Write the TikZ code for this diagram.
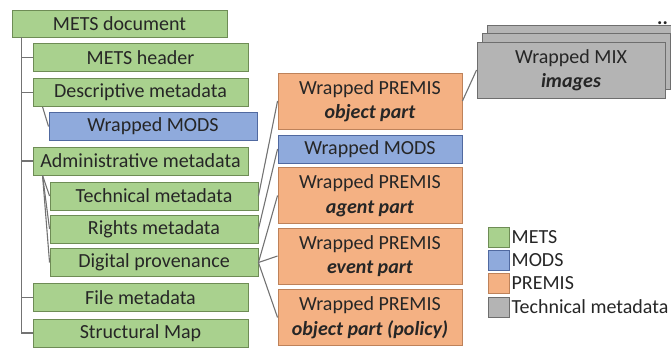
\documentclass[tikz,border=0pt]{standalone}
\usepackage{fontspec}
\setmainfont{Carlito}
\definecolor{metsfill}{RGB}{169,209,142}
\definecolor{metsline}{RGB}{110,140,85}
\definecolor{modsfill}{RGB}{143,170,220}
\definecolor{modsline}{RGB}{80,105,160}
\definecolor{premisfill}{RGB}{244,177,131}
\definecolor{premisline}{RGB}{190,130,90}
\definecolor{techfill}{RGB}{180,180,180}
\definecolor{techline}{RGB}{110,110,110}
\definecolor{wire}{RGB}{115,115,115}
\definecolor{ink}{RGB}{38,38,38}

\begin{document}
\begin{tikzpicture}[x=1pt,y=-1pt,
  box/.style={draw, line width=0.9pt, inner sep=0pt, text=ink, align=center,
    font=\fontsize{20}{24.5}\selectfont, minimum height=28pt},
  mets/.style={box, fill=metsfill, draw=metsline},
  mods/.style={box, fill=modsfill, draw=modsline},
  premis/.style={box, fill=premisfill, draw=premisline, minimum width=184pt, minimum height=56pt},
  tech/.style={box, fill=techfill, draw=techline, minimum width=188pt, minimum height=56pt},
  key/.style={draw, line width=0.9pt, minimum width=21pt, minimum height=20pt, inner sep=0pt},
  keytext/.style={anchor=west, text=ink, inner sep=0pt, font=\fontsize{20}{22}\selectfont},
  link/.style={draw=wire, line width=1.1pt}]
\useasboundingbox (0,0) rectangle (671,349);

% METS tree
\node[mets, minimum width=215pt, minimum height=27pt] (doc) at (119.5,23.5) {METS document};
\node[mets, minimum width=215pt] (hdr) at (140.5,57.5) {METS header};
\node[mets, minimum width=215pt] (dmd) at (140.5,92.5) {Descriptive metadata};
\node[mods, minimum width=208pt] (dmods) at (153,126.5) {Wrapped MODS};
\node[mets, minimum width=215pt] (amd) at (140.5,161) {Administrative metadata};
\node[mets, minimum width=208pt] (techmd) at (154,196) {Technical metadata};
\node[mets, minimum width=208pt] (rightsmd) at (154,229) {Rights metadata};
\node[mets, minimum width=208pt] (digiprov) at (154,262.5) {Digital provenance};
\node[mets, minimum width=215pt] (filemd) at (140.5,297.5) {File metadata};
\node[mets, minimum width=215pt] (structmap) at (140.5,333) {Structural Map};

% wrapped sections
\node[premis] (premobj) at (370,101) {Wrapped PREMIS\\\textbf{\textit{object part}}};
\node[mods, minimum width=184pt] (pmods) at (370,149) {Wrapped MODS};
\node[premis] (premagent) at (370,195.5) {Wrapped PREMIS\\\textbf{\textit{agent part}}};
\node[premis] (premevent) at (370,256) {Wrapped PREMIS\\\textbf{\textit{event part}}};
\node[premis] (prempolicy) at (370,317.5) {Wrapped PREMIS\\\textbf{\textit{object part (policy)}}};

% stack of MIX images
\node[tech] (mix3) at (581,53) {};
\node[tech] (mix2) at (576,61.5) {};
\node[tech] (mix) at (571,70) {Wrapped MIX\\\textbf{\textit{images}}};
\node[anchor=west, inner sep=0pt, text=ink, font=\fontsize{20}{24}\selectfont\bfseries] (more) at (657,23) {..};

% legend
\node[key, fill=metsfill, draw=metsline] (kmets) at (498.5,237) {};
\node[key, fill=modsfill, draw=modsline] (kmods) at (498.5,260.5) {};
\node[key, fill=premisfill, draw=premisline] (kpremis) at (498.5,283) {};
\node[key, fill=techfill, draw=techline] (ktech) at (498.5,307) {};
\node[keytext] (lmets) at ([xshift=2pt]kmets.east) {METS};
\node[keytext] (lmods) at ([xshift=2pt]kmods.east) {MODS};
\node[keytext] (lpremis) at ([xshift=2pt]kpremis.east) {PREMIS};
\node[keytext] (ltech) at ([xshift=2pt]ktech.east) {Technical metadata};

% connectors
\foreach \child in {hdr,dmd,amd,filemd,structmap}
  \draw[link] ([xshift=10pt]doc.south west) |- (\child.west);
\draw[link] ([xshift=10pt]dmd.south west) -- (dmods.west);
\foreach \child in {techmd,rightsmd,digiprov}
  \draw[link] ([xshift=10pt]amd.south west) -- (\child.west);
\draw[link] (techmd.east) -- (premobj.west);
\draw[link] (rightsmd.east) -- (pmods.west);
\foreach \part in {premagent,premevent,prempolicy}
  \draw[link] (digiprov.east) -- (\part.west);
\draw[link] (premobj.east) -- (mix.west);
\end{tikzpicture}
\end{document}
